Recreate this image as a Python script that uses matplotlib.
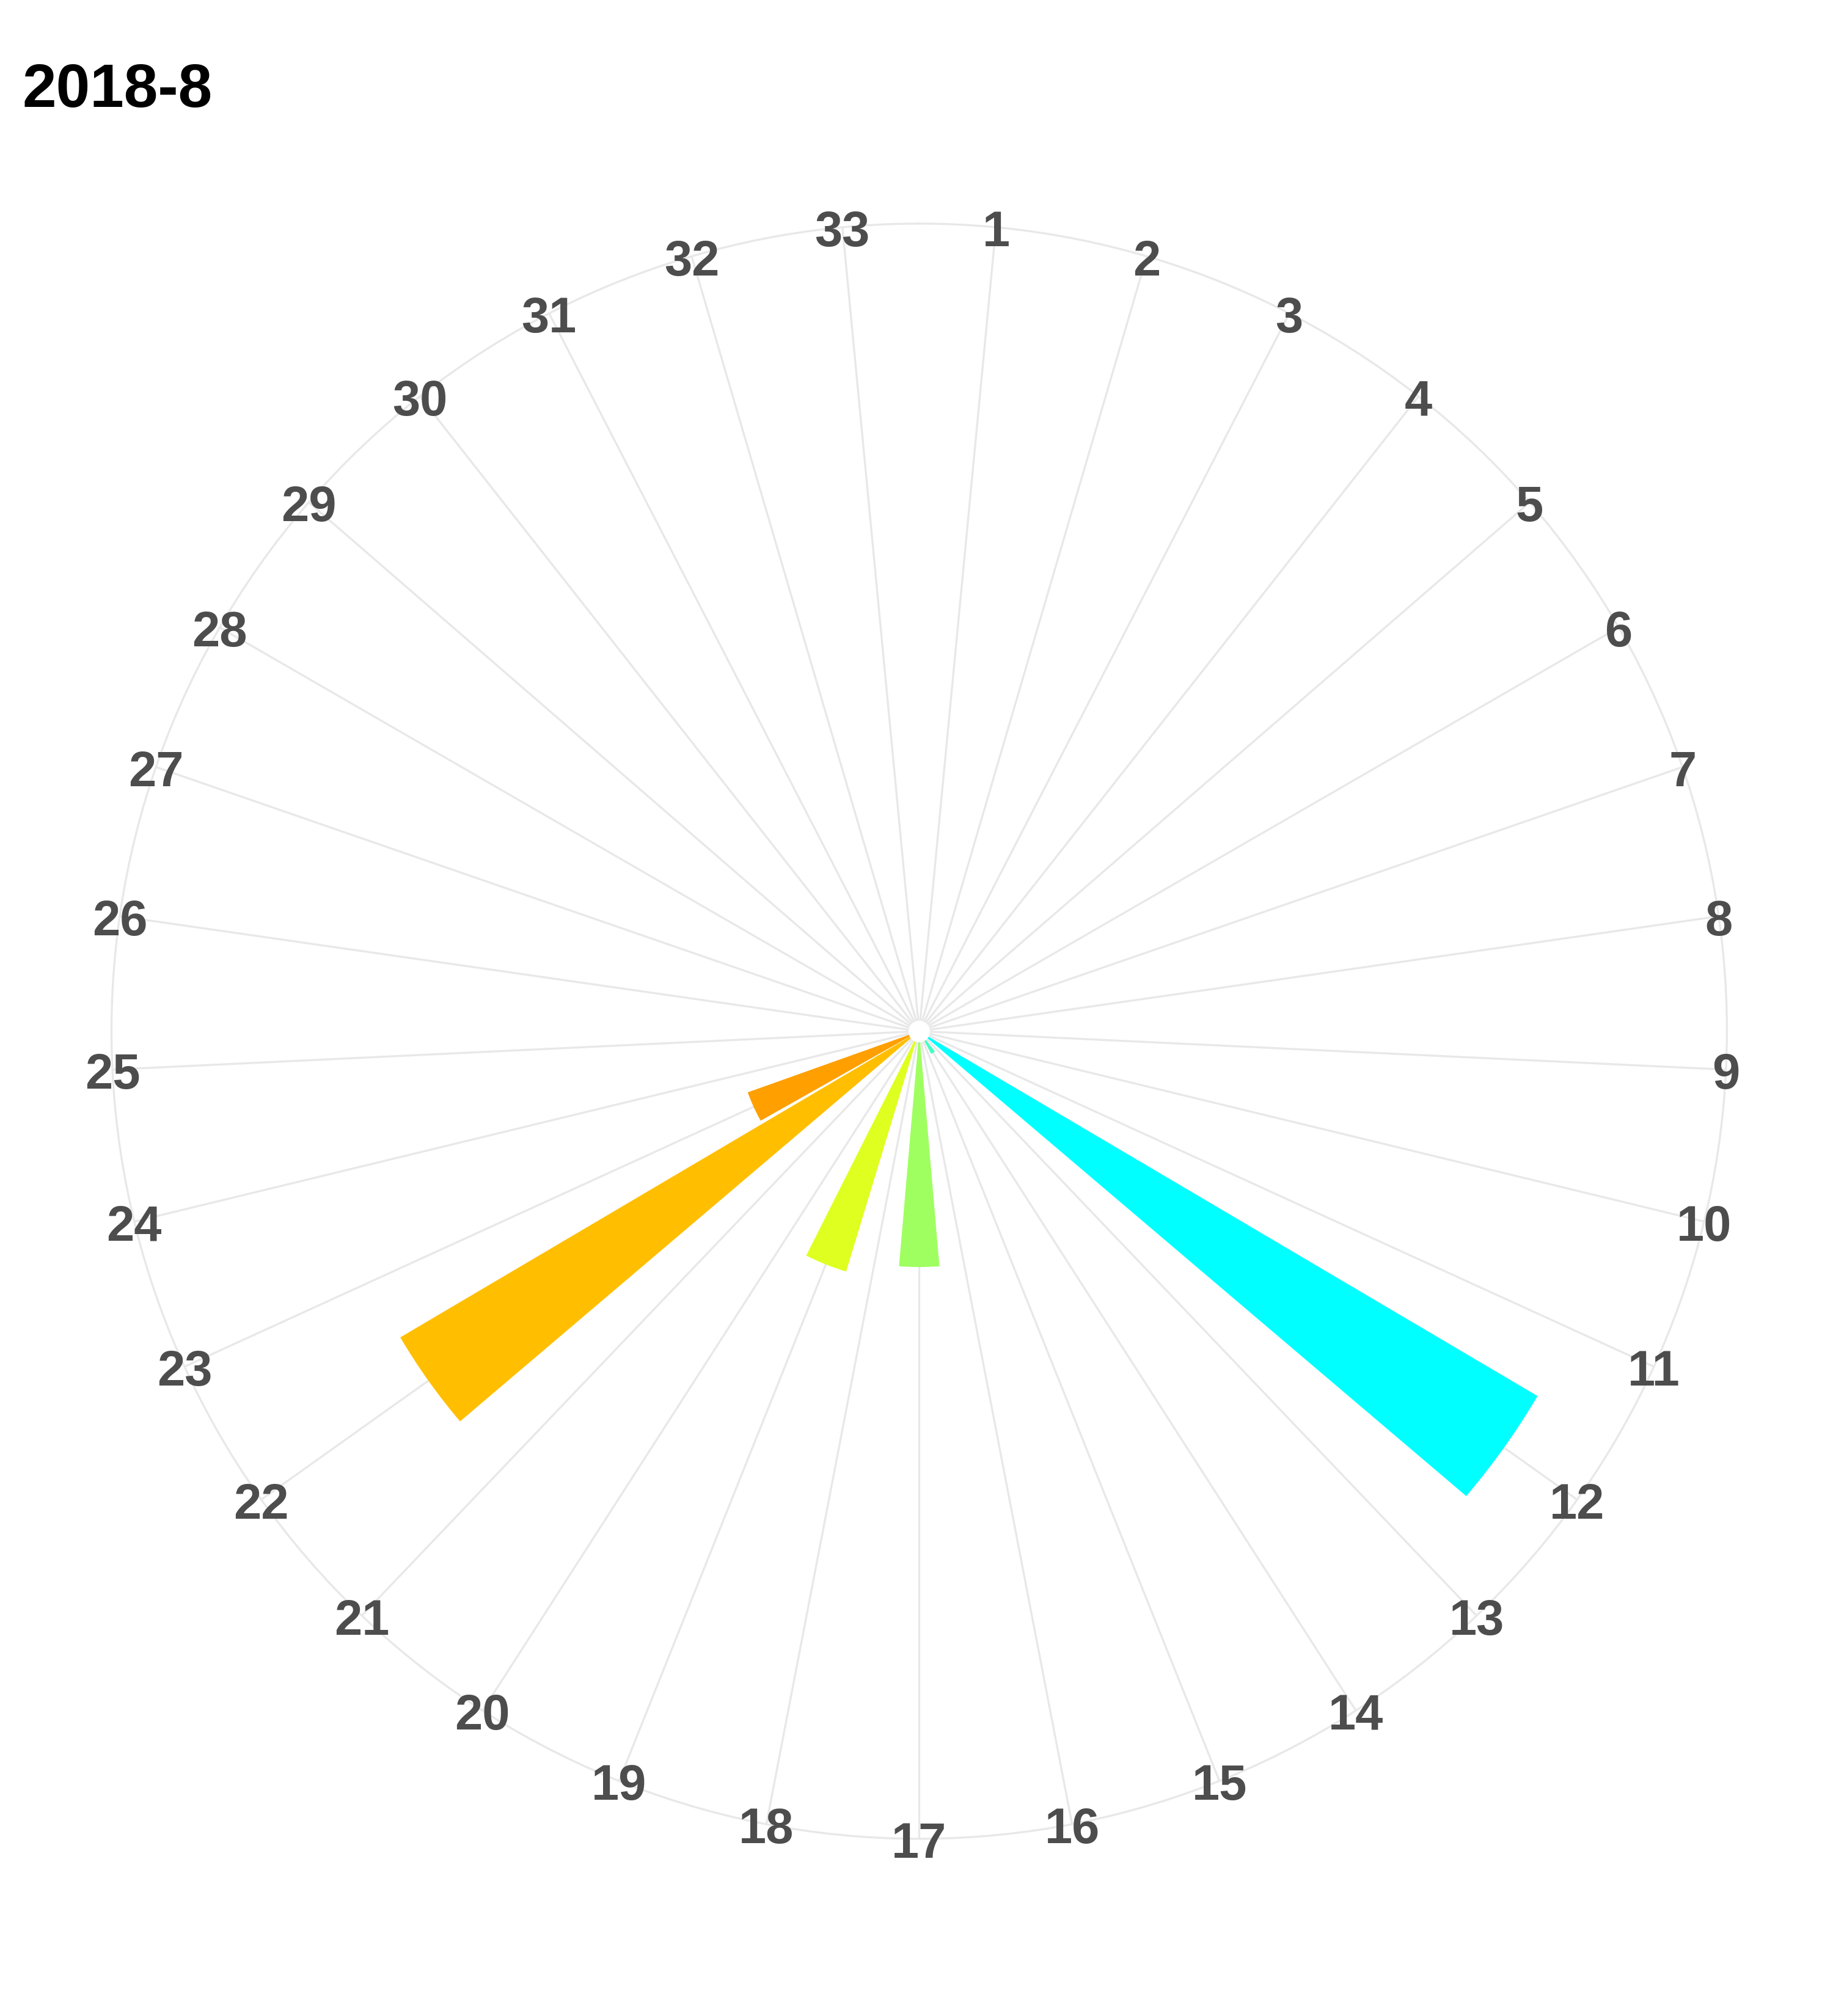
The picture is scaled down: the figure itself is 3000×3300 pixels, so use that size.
import numpy as np
import matplotlib
matplotlib.use("Agg")
import matplotlib.pyplot as plt
from matplotlib.transforms import offset_copy

# ---- data ----
categories = [str(i) for i in range(1, 34)]
bar_categories = ["12", "14", "17", "19", "22", "23"]
bar_values = [28.0, 1.0, 9.2, 9.8, 23.5, 7.1]
bar_colors = ["#00FFFF", "#40FFBF", "#9FFF60", "#DFFF20", "#FFBF00", "#FF9F00"]
title = "2018-8"

n = len(categories)
step = 2 * np.pi / n
theta_cat = {c: (i + 0.5) * step for i, c in enumerate(categories)}

fig = plt.figure(figsize=(10, 11), dpi=300)
ax = fig.add_axes([0.06083, 0.0879, 0.8813, 0.8012], projection="polar")
ax.set_theta_zero_location("N")
ax.set_theta_direction(-1)

vmax = max(bar_values)
rmax = vmax * 0.45 / 0.4
ax.set_ylim(0, rmax)

grid_col = "#E8E8E8"
ax.set_xticks([theta_cat[c] for c in categories])
ax.set_xticklabels([])
ax.set_yticks([])
ax.xaxis.grid(True, color=grid_col, linewidth=0.8)
ax.yaxis.grid(False)
ax.spines["polar"].set_color(grid_col)
ax.spines["polar"].set_linewidth(0.8)
ax.tick_params(axis="x", length=0)

ax.bar([theta_cat[c] for c in bar_categories], bar_values, width=0.9 * step,
       color=bar_colors, edgecolor="none", zorder=3)

# white spot at centre
ax.plot([0], [0], marker="o", markersize=7.5, color="white", zorder=4, clip_on=False)

label_tr = offset_copy(ax.transData, fig=fig, x=0, y=-2.4, units="points")
for c in categories:
    ax.text(theta_cat[c], rmax, c, ha="center", va="center", fontsize=19.5,
            fontweight="bold", color="#4D4D4D", family="Liberation Sans",
            zorder=5, clip_on=False, transform=label_tr)

fig.text(37 / 3000, 1 - 175 / 3300, title, ha="left", va="baseline", fontsize=24,
         fontweight="bold", color="black", family="Liberation Sans")

fig.savefig("out.png", dpi=300, facecolor="white")
